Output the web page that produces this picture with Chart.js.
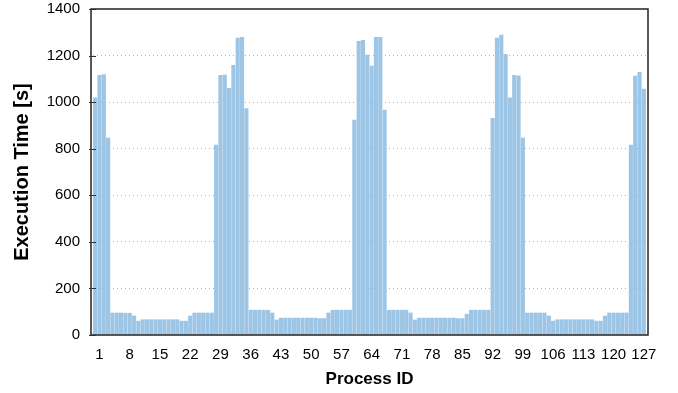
<!DOCTYPE html>
<html>
<head>
<meta charset="utf-8">
<script src="https://cdn.jsdelivr.net/npm/chart.js@4/dist/chart.umd.min.js"></script>
<style>
  html, body { margin: 0; padding: 0; background: #fff; }
  #wrap { width: 678px; height: 393px; position: relative; }
</style>
</head>
<body>
<div id="wrap"><canvas id="c" width="678" height="393"></canvas></div>
<script>
const processIds = ["0","1","2","3","4","5","6","7","8","9","10","11","12","13","14","15","16","17","18","19","20","21","22","23","24","25","26","27","28","29","30","31","32","33","34","35","36","37","38","39","40","41","42","43","44","45","46","47","48","49","50","51","52","53","54","55","56","57","58","59","60","61","62","63","64","65","66","67","68","69","70","71","72","73","74","75","76","77","78","79","80","81","82","83","84","85","86","87","88","89","90","91","92","93","94","95","96","97","98","99","100","101","102","103","104","105","106","107","108","109","110","111","112","113","114","115","116","117","118","119","120","121","122","123","124","125","126","127"];

const executionTime = [
  1020, 1117, 1120, 847, 96, 96, 96, 95, 95, 83,
  61, 67, 67, 67, 67, 67, 67, 67, 67, 67,
  61, 61, 83, 96, 96, 96, 96, 96, 817, 1117,
  1118, 1061, 1160, 1276, 1280, 974, 108, 108, 108, 108,
  108, 96, 66, 74, 74, 74, 74, 74, 74, 74,
  74, 74, 72, 72, 96, 108, 108, 108, 108, 108,
  924, 1263, 1267, 1203, 1156, 1280, 1280, 967, 108, 108,
  108, 108, 108, 96, 66, 74, 74, 74, 74, 74,
  74, 74, 74, 74, 72, 72, 91, 108, 108, 108,
  108, 108, 932, 1276, 1289, 1207, 1020, 1117, 1114, 847,
  96, 96, 96, 96, 96, 83, 61, 67, 67, 67,
  67, 67, 67, 67, 67, 67, 61, 61, 83, 96,
  96, 96, 96, 96, 817, 1113, 1129, 1057
];

const shownTickLabels = ["1","8","15","22","29","36","43","50","57","64","71","78","85","92","99","106","113","120","127"];
const yTicks = [0, 200, 400, 600, 800, 1000, 1200, 1400];

const framePlugin = {
  id: 'frame',
  afterDraw(chart) {
    const a = chart.chartArea, ctx = chart.ctx, ys = chart.scales.y;
    const L = a.left - 2, R = a.right + 2;
    ctx.save();
    ctx.strokeStyle = '#222';
    ctx.lineWidth = 1.5;
    ctx.strokeRect(L, a.top, R - L, a.bottom - a.top);
    ctx.lineWidth = 1;
    ctx.strokeStyle = '#333';
    yTicks.forEach(v => {
      const y = Math.round(ys.getPixelForValue(v)) + 0.5;
      ctx.beginPath();
      ctx.moveTo(L - 2, y);
      ctx.lineTo(L + 5, y);
      ctx.stroke();
    });
    ctx.restore();
  }
};

new Chart(document.getElementById('c'), {
  type: 'bar',
  data: {
    labels: processIds,
    datasets: [{
      data: executionTime,
      backgroundColor: '#9dc5e6',
      borderWidth: 0,
      barPercentage: 0.96,
      categoryPercentage: 1.0
    }]
  },
  options: {
    responsive: false,
    animation: false,
    devicePixelRatio: 1,
    layout: { padding: { left: 0, right: 32, top: 9, bottom: 0 } },
    plugins: { legend: { display: false }, tooltip: { enabled: false } },
    scales: {
      x: {
        grid: { display: false, drawTicks: false },
        border: { display: false },
        afterFit(s) { s.height = 58; s.paddingLeft = 0; s.paddingRight = 0; },
        ticks: {
          autoSkip: false,
          maxRotation: 0,
          minRotation: 0,
          padding: 11,
          color: '#000',
          font: { family: 'Liberation Sans, Arial, sans-serif', size: 15 },
          callback(v, i) {
            const l = processIds[i];
            return shownTickLabels.includes(l) ? l : '';
          }
        },
        title: {
          display: true,
          text: 'Process ID',
          color: '#000',
          font: { family: 'Liberation Sans, Arial, sans-serif', size: 17, weight: 'bold' },
          padding: { top: 0, bottom: 3 }
        }
      },
      y: {
        min: 0,
        max: 1400,
        afterFit(s) { s.width = 93; s.paddingTop = 0; s.paddingBottom = 0; },
        afterBuildTicks(s) { s.ticks = yTicks.map(v => ({ value: v })); },
        grid: {
          drawTicks: false,
          color: (c) => (c.tick && (c.tick.value === 0 || c.tick.value === 1400)) ? 'rgba(0,0,0,0)' : '#b0b0b0',
          lineWidth: 1
        },
        border: { display: false, dash: [1, 3] },
        ticks: {
          padding: 13,
          color: '#000',
          font: { family: 'Liberation Sans, Arial, sans-serif', size: 15 },
          callback(v) { return String(v); }
        },
        title: {
          display: true,
          text: 'Execution Time [s]',
          color: '#000',
          font: { family: 'Liberation Sans, Arial, sans-serif', size: 20, weight: 'bold' },
          padding: { top: 10, bottom: 0 }
        }
      }
    }
  },
  plugins: [framePlugin]
});
</script>
</body>
</html>
